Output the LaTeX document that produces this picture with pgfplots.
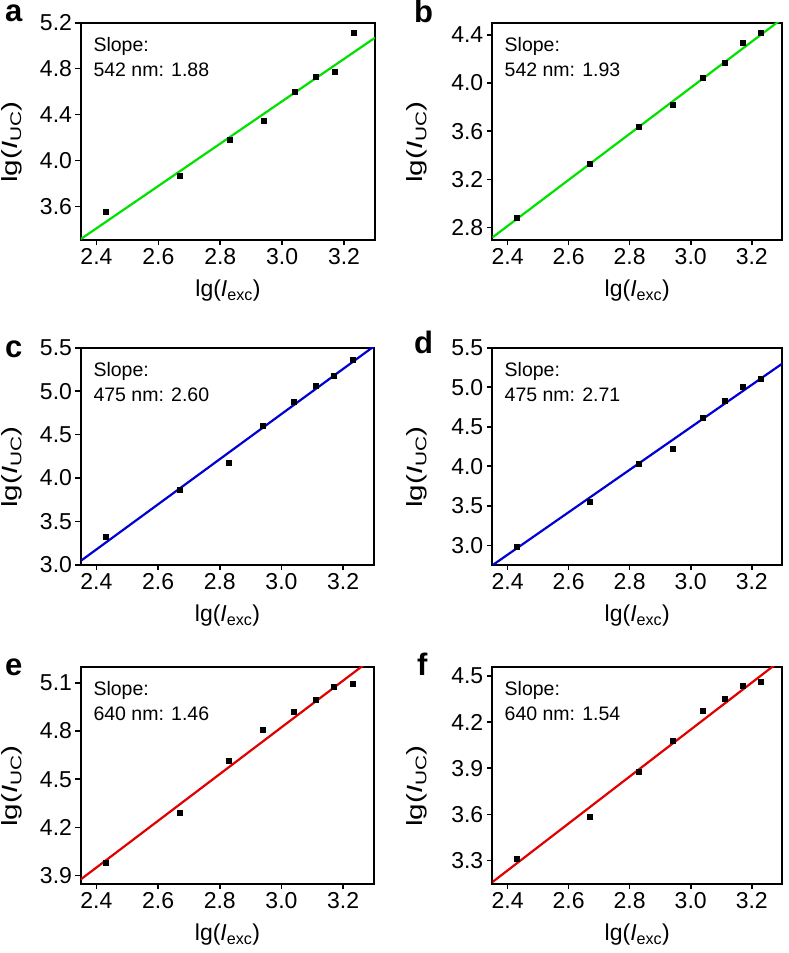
\documentclass[border=0pt]{standalone}
\usepackage{pgfplots}
\pgfplotsset{compat=1.18}
\usepackage{fontspec}
\setmainfont{Liberation Sans}
\definecolor{lgreen}{RGB}{0,225,0}
\definecolor{lblue}{RGB}{0,0,210}
\definecolor{lred}{RGB}{225,0,0}
\pgfplotsset{
  panel/.style={
    scale only axis, height=217pt,
    xmin=2.35, xmax=3.3,
    xtick={2.4,2.6,2.8,3.0,3.2},
    axis line style={line width=2pt},
    tick align=outside, xtick pos=left, ytick pos=left,
    major tick length=5.5pt,
    every tick/.style={line width=1.6pt, black},
    /pgf/number format/assume math mode=true,
    tick label style={font=\fontsize{23}{23}\selectfont},
    xticklabel style={/pgf/number format/.cd, fixed, fixed zerofill, precision=1},
    yticklabel style={/pgf/number format/.cd, fixed, fixed zerofill, precision=1},
    xlabel={lg(\textit{I}\textsubscript{exc})},
    ylabel={lg(\textit{I}\textsubscript{UC})},
    label style={font=\fontsize{22}{22}\selectfont},
    xlabel style={at={(axis description cs:0.5,0)}, anchor=north, yshift=-40pt, inner sep=0pt, font=\fontsize{23}{23}\selectfont},
    ylabel style={at={(axis description cs:#1,0.45)}, anchor=center, xscale=1.35},
    clip=true,
  },
  pts/.style={only marks, mark=square*, mark size=2.5pt, black},
  fit/.style={no marks, line width=2.2pt, #1},
}
\newcommand{\slopetext}[1]{\node[anchor=north west, align=left, inner sep=0pt, font=\fontsize{19.5}{25}\selectfont] at (rel axis cs:0.042,0.935) {Slope:\\#1};}
\begin{document}
\begin{tikzpicture}[x=1pt,y=1pt]
\useasboundingbox (0,0) rectangle (788,-953);
% a
\begin{axis}[panel=-0.235, width=294pt, at={(81pt,-22.7pt)}, anchor=north west,
  ymin=3.31, ymax=5.2, ytick={3.6,4.0,4.4,4.8,5.2}]
\addplot[pts] coordinates {(2.43,3.55) (2.67,3.865) (2.83,4.18) (2.94,4.35) (3.04,4.60) (3.11,4.73) (3.17,4.77) (3.23,5.115)};
\addplot[fit=lgreen] coordinates {(2.35,3.317) (3.30,5.069)};
\slopetext{542 nm: 1.88}
\end{axis}
% b
\begin{axis}[panel=-0.259, width=290pt, at={(492.3pt,-22.7pt)}, anchor=north west,
  ymin=2.70, ymax=4.50, ytick={2.8,3.2,3.6,4.0,4.4}]
\addplot[pts] coordinates {(2.43,2.88) (2.67,3.33) (2.83,3.636) (2.94,3.82) (3.04,4.04) (3.11,4.17) (3.17,4.33) (3.23,4.42)};
\addplot[fit=lgreen] coordinates {(2.35,2.718) (3.30,4.534)};
\slopetext{542 nm: 1.93}
\end{axis}
% c
\begin{axis}[panel=-0.235, width=293pt, at={(81pt,-347.7pt)}, anchor=north west,
  ymin=3.0, ymax=5.5, ytick={3.0,3.5,4.0,4.5,5.0,5.5}]
\addplot[pts] coordinates {(2.43,3.318) (2.67,3.863) (2.83,4.17) (2.94,4.607) (3.04,4.883) (3.11,5.067) (3.17,5.174) (3.23,5.366)};
\addplot[fit=lblue] coordinates {(2.35,3.046) (3.30,5.516)};
\slopetext{475 nm: 2.60}
\end{axis}
% d
\begin{axis}[panel=-0.259, width=290pt, at={(492.3pt,-347.7pt)}, anchor=north west,
  ymin=2.755, ymax=5.5, ytick={3.0,3.5,4.0,4.5,5.0,5.5}]
\addplot[pts] coordinates {(2.43,2.987) (2.67,3.557) (2.83,4.035) (2.94,4.225) (3.04,4.609) (3.11,4.824) (3.17,5.01) (3.23,5.107)};
\addplot[fit=lblue] coordinates {(2.35,2.747) (3.30,5.299)};
\slopetext{475 nm: 2.71}
\end{axis}
% e
\begin{axis}[panel=-0.235, width=293pt, at={(81pt,-666.7pt)}, anchor=north west,
  ymin=3.85, ymax=5.2, ytick={3.9,4.2,4.5,4.8,5.1}]
\addplot[pts] coordinates {(2.43,3.981) (2.67,4.289) (2.83,4.618) (2.94,4.806) (3.04,4.92) (3.11,4.992) (3.17,5.073) (3.23,5.092)};
\addplot[fit=lred] coordinates {(2.35,3.878) (3.30,5.259)};
\slopetext{640 nm: 1.46}
\end{axis}
% f
\begin{axis}[panel=-0.259, width=290pt, at={(492.3pt,-666.7pt)}, anchor=north west,
  ymin=3.15, ymax=4.56, ytick={3.3,3.6,3.9,4.2,4.5}]
\addplot[pts] coordinates {(2.43,3.315) (2.67,3.587) (2.83,3.878) (2.94,4.081) (3.04,4.276) (3.11,4.351) (3.17,4.437) (3.23,4.461)};
\addplot[fit=lred] coordinates {(2.35,3.16) (3.30,4.609)};
\slopetext{640 nm: 1.54}
\end{axis}
% panel letters
\node[anchor=base west, inner sep=0pt, font=\fontsize{31}{31}\selectfont\bfseries] at (5,-21.5) {a};
\node[anchor=base west, inner sep=0pt, font=\fontsize{31}{31}\selectfont\bfseries] at (414,-23) {b};
\node[anchor=base west, inner sep=0pt, font=\fontsize{31}{31}\selectfont\bfseries] at (5,-357) {c};
\node[anchor=base west, inner sep=0pt, font=\fontsize{31}{31}\selectfont\bfseries] at (414,-353) {d};
\node[anchor=base west, inner sep=0pt, font=\fontsize{31}{31}\selectfont\bfseries] at (5,-675) {e};
\node[anchor=base west, inner sep=0pt, font=\fontsize{31}{31}\selectfont\bfseries] at (417,-675) {f};
\end{tikzpicture}
\end{document}
